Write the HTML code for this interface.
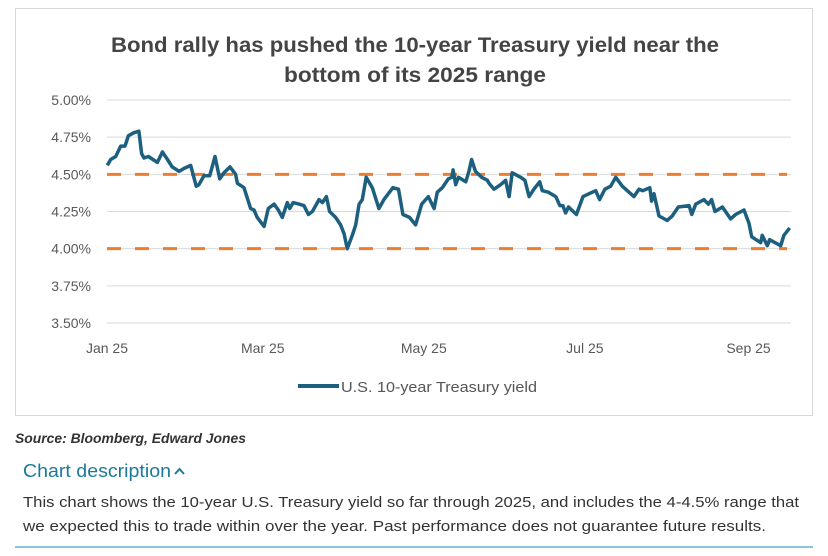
<!DOCTYPE html>
<html><head><meta charset="utf-8"><style>
html,body{margin:0;padding:0;background:#fff;}
svg{display:block;font-family:"Liberation Sans",sans-serif;}
</style></head><body>
<svg id="chart" width="828" height="556" viewBox="0 0 828 556">
<rect x="15.5" y="8.5" width="797" height="407" fill="#fff" stroke="#d6d6d6"/>
<text x="415" y="52" text-anchor="middle" font-size="21" font-weight="bold" fill="#444" textLength="608" lengthAdjust="spacingAndGlyphs">Bond rally has pushed the 10-year Treasury yield near the</text>
<text x="415" y="82" text-anchor="middle" font-size="21" font-weight="bold" fill="#444" textLength="262" lengthAdjust="spacingAndGlyphs">bottom of its 2025 range</text>
<g id="grid"></g>
<g id="yticks"></g>
<g id="xticks"></g>
<g id="bands"></g>
<path id="series" fill="none" stroke="#1d5f7e" stroke-width="3.5" stroke-linejoin="round"/>
<g>
<line x1="298" y1="386" x2="339" y2="386" stroke="#1d5f7e" stroke-width="4"/>
<text x="341" y="392" font-size="15" fill="#555" textLength="196" lengthAdjust="spacingAndGlyphs">U.S. 10-year Treasury yield</text>
</g>
<text x="15" y="443" font-size="14" font-style="italic" font-weight="bold" fill="#333" textLength="231" lengthAdjust="spacingAndGlyphs">Source: Bloomberg, Edward Jones</text>
<g>
<text x="23" y="477" font-size="18" fill="#1b7a99" textLength="148" lengthAdjust="spacingAndGlyphs">Chart description</text>
<path d="M175 474 L179.5 469 L184 474" fill="none" stroke="#1b7a99" stroke-width="2"/>
</g>
<text x="23" y="507" font-size="15" fill="#333" textLength="776" lengthAdjust="spacingAndGlyphs">This chart shows the 10-year U.S. Treasury yield so far through 2025, and includes the 4-4.5% range that</text>
<text x="23" y="531" font-size="15" fill="#333" textLength="743" lengthAdjust="spacingAndGlyphs">we expected this to trade within over the year. Past performance does not guarantee future results.</text>
<line x1="15" y1="547" x2="813" y2="547" stroke="#8fc3dc" stroke-width="2"/>
</svg>
<script>
const yTicks = [3.5, 3.75, 4.0, 4.25, 4.5, 4.75, 5.0];
const yTickLabels = ["3.50%", "3.75%", "4.00%", "4.25%", "4.50%", "4.75%", "5.00%"];
const xTickDays = [0, 59, 120, 181, 243];
const xTickLabels = ["Jan 25", "Mar 25", "May 25", "Jul 25", "Sep 25"];
const rangeLevels = [4.0, 4.5];
const days = [0.1,1.4,3.3,5.2,6.8,8.1,10.2,12.1,13.1,14,15.7,17.4,19.1,21,22.9,24.7,27.3,29.2,31.7,33.8,34.8,36.7,38.9,40.9,42.7,44.3,46.6,48.7,49.4,51.9,54.4,55.7,56.9,59.5,61.1,63.3,64.9,66.4,68.3,69.2,70.5,72.7,74.6,76.3,77.8,80.3,81.6,83.1,84.3,86.6,88.5,89.8,91,92.9,94.2,95.5,96.7,98.2,100.5,103,104.9,108.3,110.4,112.1,114.6,116.9,119.2,121.7,123.9,125.1,127,129.3,130.6,131.1,132.1,133.1,135.9,137.1,138.1,139.6,141.9,144.1,144.7,146.6,149.1,151,152.3,153.5,156.7,158.3,159.9,161.7,163.9,164.9,167.2,170,171.5,172.7,173.7,174.8,177.8,180.3,182.6,185.1,186.6,188.6,190.8,192.7,195.2,197.1,199.6,201.5,203,205.6,206.3,207.2,209.1,212.2,214.1,216.4,220.5,221.5,223,226.1,227.8,229,230.3,233.1,236.2,238.1,241.3,243.2,244.2,247.6,248.2,250.1,251,255.2,256.4,257.3,258.6];
const yields = [4.56,4.60,4.62,4.69,4.69,4.76,4.78,4.79,4.64,4.61,4.62,4.60,4.58,4.65,4.60,4.55,4.52,4.54,4.56,4.42,4.43,4.49,4.49,4.62,4.47,4.51,4.55,4.50,4.44,4.41,4.27,4.26,4.21,4.15,4.27,4.30,4.26,4.21,4.31,4.27,4.31,4.30,4.29,4.23,4.25,4.33,4.31,4.35,4.25,4.21,4.16,4.10,4.00,4.09,4.16,4.30,4.33,4.48,4.41,4.27,4.33,4.41,4.40,4.23,4.21,4.16,4.30,4.35,4.27,4.38,4.41,4.47,4.48,4.53,4.43,4.48,4.45,4.52,4.60,4.52,4.48,4.46,4.44,4.40,4.43,4.46,4.35,4.51,4.48,4.46,4.35,4.40,4.45,4.39,4.38,4.35,4.29,4.29,4.24,4.28,4.23,4.35,4.37,4.39,4.33,4.40,4.42,4.48,4.42,4.39,4.35,4.40,4.39,4.41,4.32,4.37,4.22,4.19,4.22,4.28,4.29,4.23,4.30,4.33,4.30,4.33,4.25,4.28,4.20,4.23,4.26,4.17,4.08,4.04,4.09,4.02,4.06,4.02,4.09,4.11,4.14];

const NS = "http://www.w3.org/2000/svg";
const X0 = 107, XR = 2.64, XEND = 791;
const Y0 = 323, Y1 = 100, VMIN = 3.5, VMAX = 5.0;
function xs(d){ return X0 + d * XR; }
function ys(v){ return Y0 - (v - VMIN) / (VMAX - VMIN) * (Y0 - Y1); }
function mk(tag, attrs, parent){ const e = document.createElementNS(NS, tag); for (const k in attrs) e.setAttribute(k, attrs[k]); parent.appendChild(e); return e; }

const grid = document.getElementById('grid');
const yt = document.getElementById('yticks');
yTicks.forEach((v, i) => {
  const l = mk('line', {x1: X0, x2: XEND, y1: ys(v), y2: ys(v), stroke: '#d9d9d9', 'stroke-width': 1}, grid);
  
  
  const t = mk('text', {x: 91, y: ys(v) + 5, 'text-anchor': 'end', 'font-size': 14, fill: '#595959'}, yt);
  t.textContent = yTickLabels[i];
  
  
});
const xt = document.getElementById('xticks');
xTickDays.forEach((d, i) => {
  const t = mk('text', {x: xs(d), y: 353, 'text-anchor': 'middle', 'font-size': 14, fill: '#595959'}, xt);
  t.textContent = xTickLabels[i];
  
  
});
const bands = document.getElementById('bands');
rangeLevels.forEach(v => {
  const l = mk('line', {x1: X0, x2: XEND - 4, y1: ys(v), y2: ys(v), stroke: '#ed7d31', 'stroke-width': 3, 'stroke-dasharray': '14 14'}, bands);
  
  
});
let d = '';
days.forEach((dd, i) => { d += (i ? 'L' : 'M') + xs(dd).toFixed(1) + ' ' + ys(yields[i]).toFixed(1) + ' '; });
document.getElementById('series').setAttribute('d', d);
</script>
</body></html>
